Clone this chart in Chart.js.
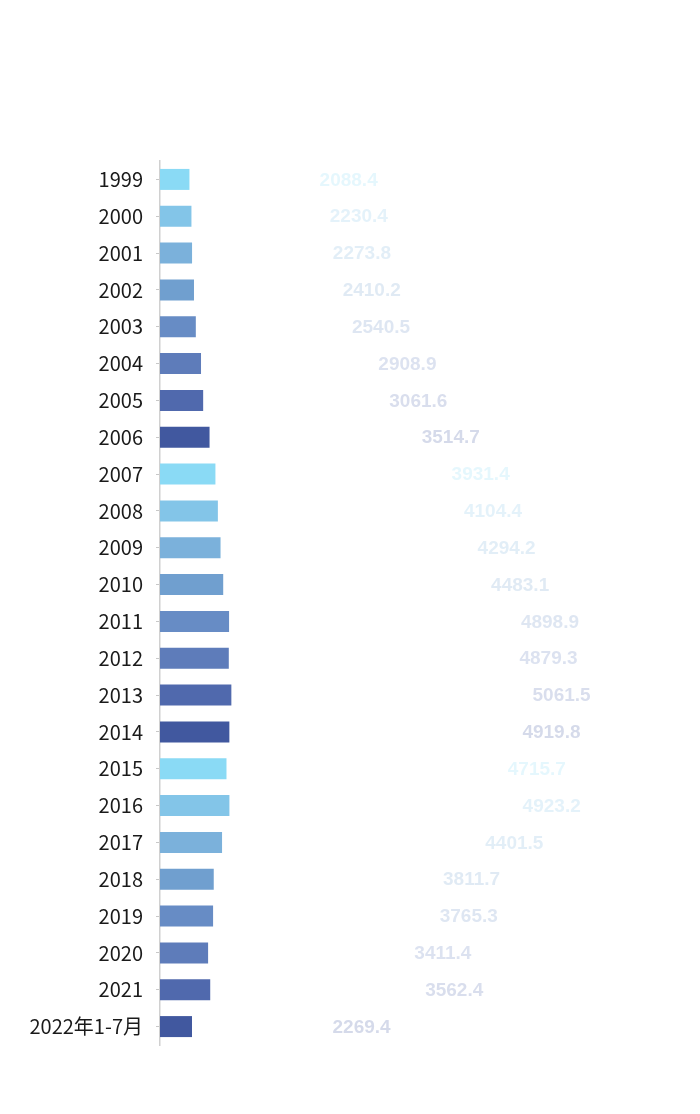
<!DOCTYPE html>
<html>
<head>
<meta charset="utf-8">
<script src="https://cdn.jsdelivr.net/npm/chart.js@4/dist/chart.umd.min.js"></script>
<style>
  html,body{margin:0;padding:0;background:#fff;}
  #wrap{width:700px;height:1114px;}
</style>
</head>
<body>
<div id="wrap"><canvas id="bar" width="700" height="1114"></canvas></div>
<script>
var years=["1999","2000","2001","2002","2003","2004","2005","2006","2007","2008","2009","2010",
  "2011","2012","2013","2014","2015","2016","2017","2018","2019","2020","2021","2022年1-7月"];
var values=[2088.4,2230.4,2273.8,2410.2,2540.5,2908.9,3061.6,3514.7,3931.4,4104.4,4294.2,4483.1,
  4898.9,4879.3,5061.5,4919.8,4715.7,4923.2,4401.5,3811.7,3765.3,3411.4,3562.4,2269.4];
var palette=["#8adaf5","#83c5e8","#7bb1db","#709fcf","#678cc5","#5e7cba","#5069ad","#41589f"];

var barColors=[];
for(var i=0;i<values.length;i++){
  barColors.push(palette[i%palette.length]);
}

function fade(hex,a){
  var r=parseInt(hex.substr(1,2),16),g=parseInt(hex.substr(3,2),16),b=parseInt(hex.substr(5,2),16);
  return "rgba("+r+","+g+","+b+","+a+")";
}

// value labels sit far right of the bars, tinted like their bar
var valueLabels={
  id:"valueLabels",
  afterDatasetsDraw:function(chart){
    var ctx=chart.ctx;
    var xs=chart.scales.x;
    var meta=chart.getDatasetMeta(0);
    ctx.save();
    ctx.font="bold 19px 'Liberation Sans', Arial, sans-serif";
    ctx.textAlign="left";
    ctx.textBaseline="middle";
    meta.data.forEach(function(bar,idx){
      var v=values[idx];
      var x=xs.getPixelForValue(v*5.08)+10;
      ctx.fillStyle=fade(barColors[idx],0.22);
      ctx.fillText(v.toFixed(1),x,bar.y+1);
    });
    ctx.restore();
  }
};

new Chart("bar",{
  type:"bar",
  data:{
    labels:years,
    datasets:[{
      data:values,
      backgroundColor:barColors,
      borderWidth:0,
      barPercentage:0.57,
      categoryPercentage:1
    }]
  },
  options:{
    indexAxis:"y",
    responsive:false,
    animation:false,
    layout:{padding:{top:161,bottom:69,left:0,right:0}},
    plugins:{legend:{display:false},tooltip:{enabled:false}},
    scales:{
      x:{display:false,min:0,max:38300},
      y:{
        afterFit:function(s){s.width=160;},
        border:{display:true,color:"#d0d0d0",width:1.5},
        grid:{drawOnChartArea:false,offset:false,tickLength:4,color:"#c8c8c8"},
        ticks:{
          padding:13,
          color:"#1a1a1a",
          font:{family:"'Noto Sans CJK SC','Noto Sans',sans-serif",size:20}
        }
      }
    }
  },
  plugins:[valueLabels]
});
</script>
</body>
</html>
